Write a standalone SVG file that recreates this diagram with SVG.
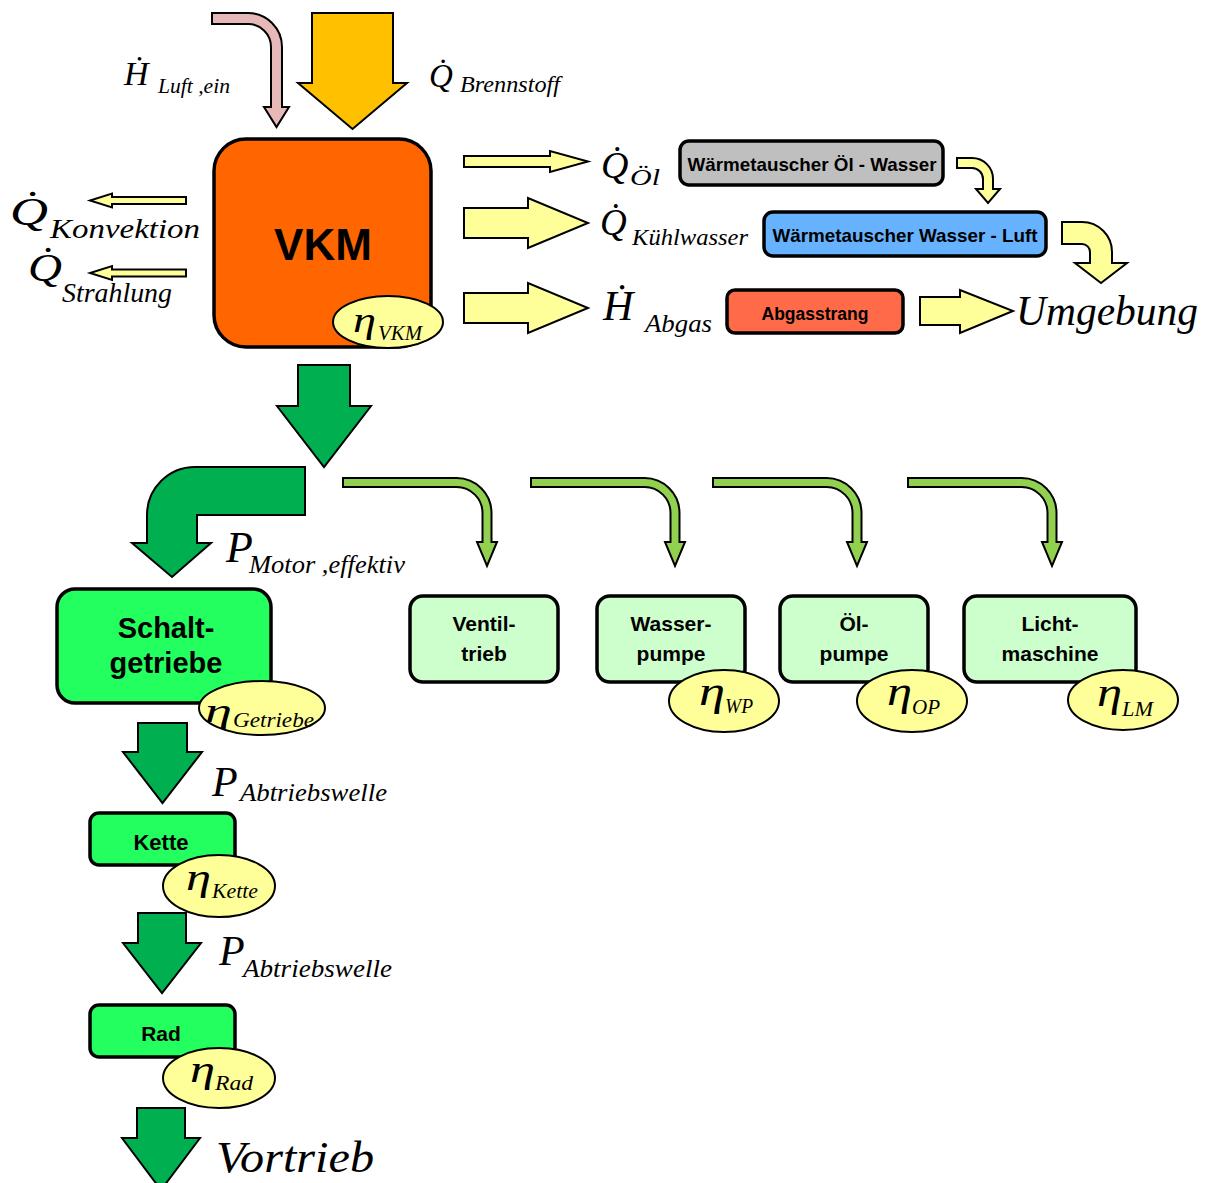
<svg xmlns="http://www.w3.org/2000/svg" xmlns:xlink="http://www.w3.org/1999/xlink" width="1208" height="1183" viewBox="0 0 1208 1183">
<style>
.m{font-family:"Liberation Serif","Times New Roman","DejaVu Serif",serif;font-style:italic;fill:#000}
.b{font-family:"Liberation Sans",Arial,sans-serif;font-weight:bold;text-anchor:middle;fill:#000}
.box{stroke:#000;stroke-width:3.5}
.eta{fill:#FFFF99;stroke:#000;stroke-width:2}
.ar{stroke:#000;stroke-width:2;stroke-linejoin:miter}
.yel{fill:#FFFF99}
.dg{fill:#00B050}
.lg{fill:#92D050}
</style>
<defs>
<path id="acc" d="M-144,478 H-30.5 A35,35 0 0 1 4.5,513 V542 H10 L0,566 L-10,542 H-4.5 V513 A26,26 0 0 0 -30.5,487 H-144 Z"/>
</defs>
<rect width="1208" height="1183" fill="#fff"/>
<g id="connectors">
<path class="ar" fill="#E6B9B8" d="M212,13 H248 A34,34 0 0 1 282,47 V107 H289 L276.5,127 L264,107 H271 V47 A23,23 0 0 0 248,24 H212 Z"/>
<path class="ar" fill="#FFC000" d="M312,13 H393 V83 H407 L352.5,129 L298,83 H312 Z"/>
<path class="ar yel" d="M186,197 H112 V193.5 L90,200.5 L112,207.5 V204 H186 Z"/>
<path class="ar yel" d="M186,269.5 H112 V266 L90,273 L112,280 V276.5 H186 Z"/>
<path class="ar yel" d="M464,156 H550 V151 L588,161.5 L550,172 V167 H464 Z"/>
<path class="ar yel" d="M464,208 H528 V198 L588,223 L528,248 V238 H464 Z"/>
<path class="ar yel" d="M464,293 H528 V283 L588,308 L528,333 V323 H464 Z"/>
<path class="ar yel" d="M957,158 H972 A21,21 0 0 1 993,179 V189 H1000 L988,203 L976,189 H983 V179 A11,11 0 0 0 972,168 H957 Z"/>
<path class="ar yel" d="M1062,222 H1082 A30,30 0 0 1 1112,252 V263 H1127 L1101,283 L1075,263 H1090 V252 A8,8 0 0 0 1082,244 H1062 Z"/>
<path class="ar yel" d="M920,297 H960 V290 L1013,311 L960,333 V325 H920 Z"/>
<path class="ar dg" d="M298,365 H350 V406 H371 L324,467 L277,406 H298 Z"/>
<path class="ar dg" d="M305,467 V515 H197 V543 H211 L172,577 L132,543 H147 V515 A48,48 0 0 1 195,467 Z"/>
<use href="#acc" xlink:href="#acc" x="487" class="ar lg"/>
<use href="#acc" xlink:href="#acc" x="675" class="ar lg"/>
<use href="#acc" xlink:href="#acc" x="857" class="ar lg"/>
<use href="#acc" xlink:href="#acc" x="1052" class="ar lg"/>
<path class="ar dg" d="M138,723 H187 V752 H202 L162.5,803 L123,752 H138 Z"/>
<path class="ar dg" d="M138,913 H186 V943 H201 L162,993 L123,943 H138 Z"/>
<path class="ar dg" d="M137,1108 H185 V1138 H200 L161,1190 L122,1138 H137 Z"/>
</g>
<g id="labels">
<text class="m" x="124" y="85" font-size="34">H&#x307;</text>
<text class="m" x="158" y="93" font-size="22" textLength="72" lengthAdjust="spacingAndGlyphs">Luft ,ein</text>
<text class="m" x="429" y="87" font-size="33">Q&#x307;</text>
<text class="m" x="460" y="92" font-size="24" textLength="100" lengthAdjust="spacingAndGlyphs">Brennstoff</text>
<text class="m" x="10" y="225" font-size="40" textLength="38" lengthAdjust="spacingAndGlyphs">Q&#x307;</text>
<text class="m" x="50" y="238" font-size="28" textLength="150" lengthAdjust="spacingAndGlyphs">Konvektion</text>
<text class="m" x="28" y="281" font-size="40" textLength="34" lengthAdjust="spacingAndGlyphs">Q&#x307;</text>
<text class="m" x="62" y="302" font-size="27" textLength="110" lengthAdjust="spacingAndGlyphs">Strahlung</text>
<text class="m" x="601" y="178" font-size="38">Q&#x307;</text>
<text class="m" x="630" y="185" font-size="24" textLength="30" lengthAdjust="spacingAndGlyphs">Öl</text>
<text class="m" x="600" y="235" font-size="37">Q&#x307;</text>
<text class="m" x="632" y="245" font-size="24" textLength="116" lengthAdjust="spacingAndGlyphs">Kühlwasser</text>
<text class="m" x="603" y="320" font-size="42">H&#x307;</text>
<text class="m" x="645" y="332" font-size="26" textLength="67" lengthAdjust="spacingAndGlyphs">Abgas</text>
<text class="m" x="1016" y="325" font-size="42" textLength="182" lengthAdjust="spacingAndGlyphs">Umgebung</text>
<text class="m" x="226" y="562" font-size="44">P</text>
<text class="m" x="249" y="573" font-size="26" textLength="156" lengthAdjust="spacingAndGlyphs">Motor ,effektiv</text>
<text class="m" x="212" y="796" font-size="42">P</text>
<text class="m" x="240" y="801" font-size="26" textLength="147" lengthAdjust="spacingAndGlyphs">Abtriebswelle</text>
<text class="m" x="219" y="965" font-size="42">P</text>
<text class="m" x="243" y="977" font-size="26" textLength="149" lengthAdjust="spacingAndGlyphs">Abtriebswelle</text>
<text class="m" x="216" y="1172" font-size="44" textLength="158" lengthAdjust="spacingAndGlyphs">Vortrieb</text>
</g>
<g id="vkm">
<rect class="box" x="214" y="139" width="217" height="208" rx="32" fill="#FF6600"/>
<text class="b" x="323" y="260" font-size="44">VKM</text>
<ellipse class="eta" cx="388" cy="322" rx="55" ry="26"/>
<text class="m" x="353" y="332" font-size="36" textLength="23" lengthAdjust="spacingAndGlyphs">η</text>
<text class="m" x="378" y="340" font-size="20" textLength="44" lengthAdjust="spacingAndGlyphs">VKM</text>
</g>
<g id="wt-oel">
<rect class="box" x="680" y="141" width="263" height="44" rx="9" fill="#BFBFBF"/>
<text class="b" x="812" y="171" font-size="18.5" textLength="249" lengthAdjust="spacingAndGlyphs">Wärmetauscher Öl - Wasser</text>
</g>
<g id="wt-wasser">
<rect class="box" x="764" y="212" width="282" height="44" rx="9" fill="#66B2FF"/>
<text class="b" x="905" y="242" font-size="18.5" textLength="265" lengthAdjust="spacingAndGlyphs">Wärmetauscher Wasser - Luft</text>
</g>
<g id="abgasstrang">
<rect class="box" x="727" y="290" width="176" height="43" rx="8" fill="#FF6A48"/>
<text class="b" x="815" y="320" font-size="17.5">Abgasstrang</text>
</g>
<g id="schaltgetriebe">
<rect class="box" x="57" y="589" width="214" height="114" rx="18" fill="#22FF5F"/>
<text class="b" x="166" y="638" font-size="29">Schalt-</text>
<text class="b" x="166" y="673" font-size="29">getriebe</text>
<ellipse class="eta" cx="262" cy="708" rx="63" ry="27"/>
<text class="m" x="205" y="722" font-size="34" textLength="27" lengthAdjust="spacingAndGlyphs">η</text>
<text class="m" x="233" y="727" font-size="21" textLength="81" lengthAdjust="spacingAndGlyphs">Getriebe</text>
</g>
<g id="ventiltrieb">
<rect class="box" x="410" y="596" width="148" height="86" rx="13" fill="#CCFFCC"/>
<text class="b" x="484" y="631" font-size="21">Ventil-</text>
<text class="b" x="484" y="661" font-size="21">trieb</text>
</g>
<g id="wasserpumpe">
<rect class="box" x="597" y="596" width="148" height="86" rx="13" fill="#CCFFCC"/>
<text class="b" x="671" y="631" font-size="21">Wasser-</text>
<text class="b" x="671" y="661" font-size="21">pumpe</text>
<ellipse class="eta" cx="724" cy="701" rx="55" ry="31"/>
<text class="m" x="699" y="705" font-size="40" textLength="26" lengthAdjust="spacingAndGlyphs">η</text>
<text class="m" x="725" y="713" font-size="22" textLength="28" lengthAdjust="spacingAndGlyphs">WP</text>
</g>
<g id="oelpumpe">
<rect class="box" x="780" y="596" width="148" height="86" rx="13" fill="#CCFFCC"/>
<text class="b" x="854" y="631" font-size="21">Öl-</text>
<text class="b" x="854" y="661" font-size="21">pumpe</text>
<ellipse class="eta" cx="912" cy="701" rx="55" ry="31"/>
<text class="m" x="887" y="705" font-size="40" textLength="25" lengthAdjust="spacingAndGlyphs">η</text>
<text class="m" x="912" y="714" font-size="22" textLength="28" lengthAdjust="spacingAndGlyphs">OP</text>
</g>
<g id="lichtmaschine">
<rect class="box" x="964" y="596" width="172" height="86" rx="13" fill="#CCFFCC"/>
<text class="b" x="1050" y="631" font-size="21">Licht-</text>
<text class="b" x="1050" y="661" font-size="21">maschine</text>
<ellipse class="eta" cx="1123" cy="700" rx="55" ry="30"/>
<text class="m" x="1097" y="706" font-size="40" textLength="25" lengthAdjust="spacingAndGlyphs">η</text>
<text class="m" x="1122" y="716" font-size="22" textLength="31" lengthAdjust="spacingAndGlyphs">LM</text>
</g>
<g id="kette">
<rect class="box" x="90" y="813" width="145" height="52" rx="9" fill="#22FF5F"/>
<text class="b" x="161" y="850" font-size="22">Kette</text>
<ellipse class="eta" cx="219" cy="886" rx="56" ry="31"/>
<text class="m" x="186" y="890" font-size="37" textLength="25" lengthAdjust="spacingAndGlyphs">η</text>
<text class="m" x="212" y="898" font-size="22" textLength="46" lengthAdjust="spacingAndGlyphs">Kette</text>
</g>
<g id="rad">
<rect class="box" x="90" y="1005" width="145" height="52" rx="9" fill="#22FF5F"/>
<text class="b" x="161" y="1041" font-size="21">Rad</text>
<ellipse class="eta" cx="219" cy="1078" rx="56" ry="30"/>
<text class="m" x="190" y="1082" font-size="37" textLength="25" lengthAdjust="spacingAndGlyphs">η</text>
<text class="m" x="215" y="1090" font-size="22" textLength="38" lengthAdjust="spacingAndGlyphs">Rad</text>
</g>
</svg>
